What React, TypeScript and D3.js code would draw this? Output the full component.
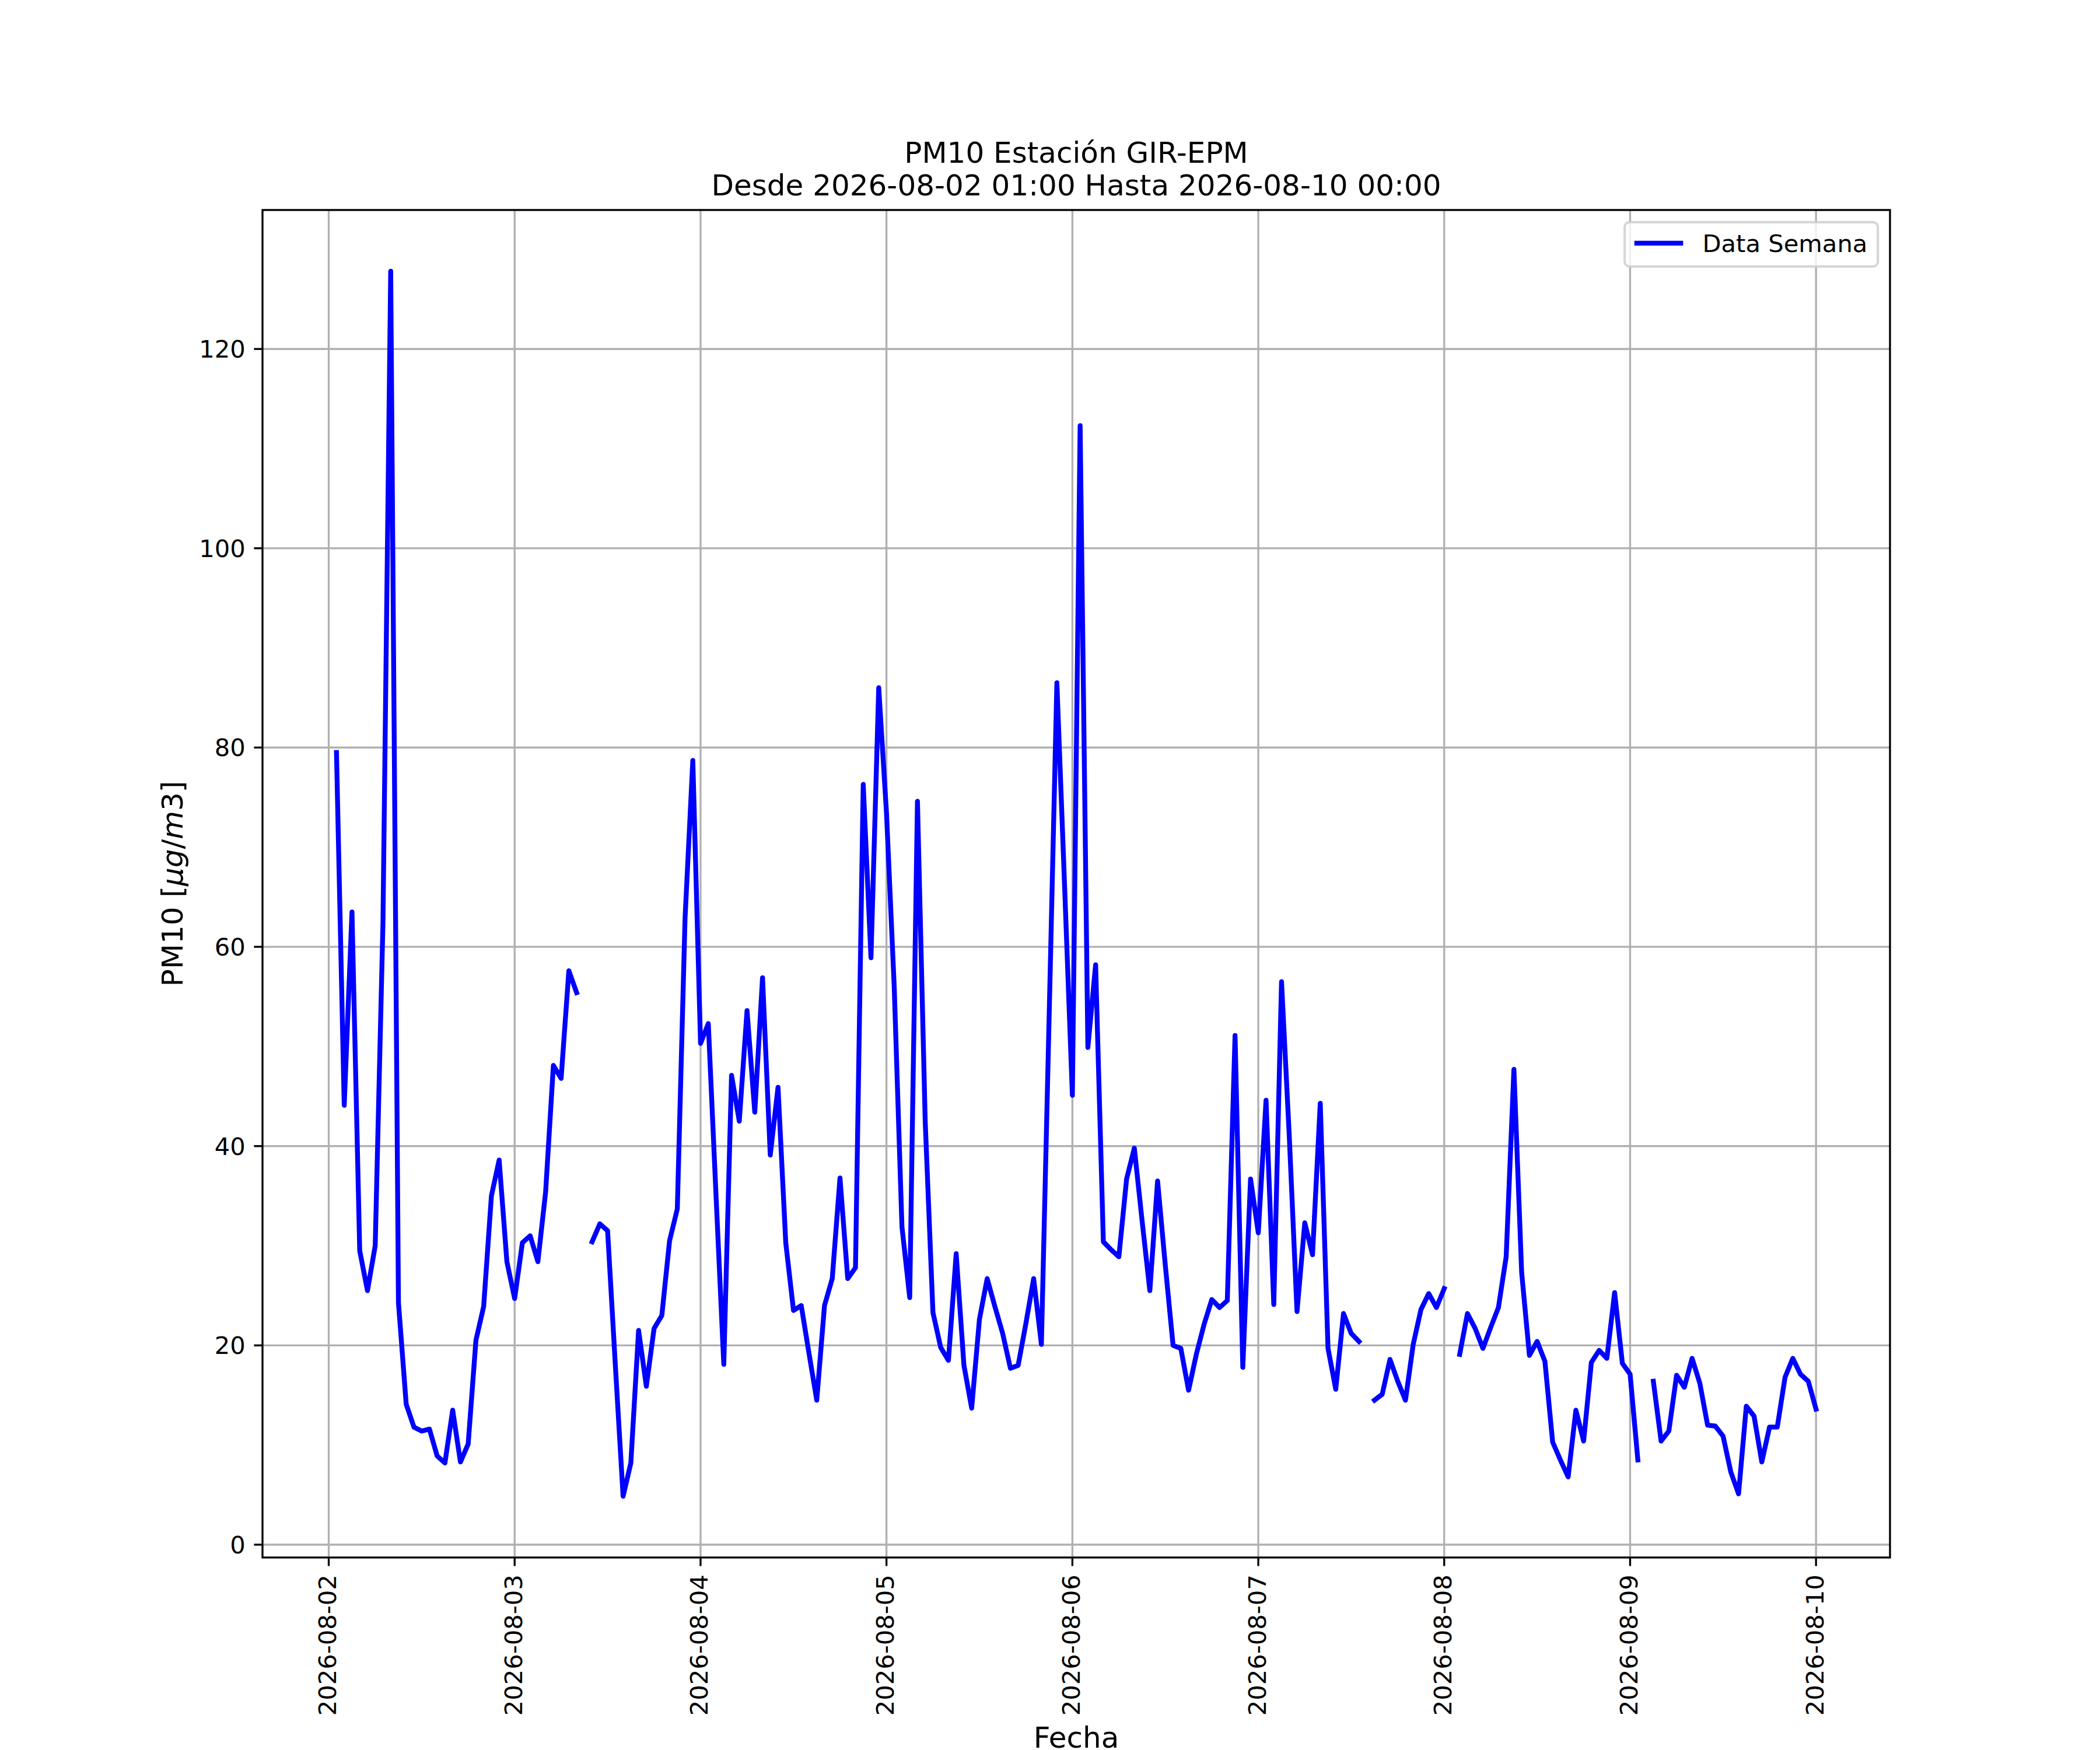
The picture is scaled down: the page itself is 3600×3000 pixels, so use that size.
import React from 'react';
import * as d3 from 'd3';

// Hourly PM10 values, first hour = 2026-08-02 01:00, last = 2026-08-10 00:00 (null = missing)
const pm10: (number | null)[] = [
  79.5, 44.1, 63.5, 29.5, 25.5, 30.0, 62.4, 127.8, 24.3, 14.1, 11.8, 11.4,
  11.6, 8.9, 8.2, 13.5, 8.3, 10.1, 20.5, 23.9, 35.0, 38.6, 28.4, 24.7,
  30.3, 31.0, 28.4, 35.4, 48.1, 46.8, 57.6, 55.4, null, 30.4, 32.2, 31.5,
  18.0, 4.86, 8.2, 21.5, 15.9, 21.7, 23.0, 30.5, 33.7, 62.9, 78.7, 50.3,
  52.3, 35.0, 18.1, 47.1, 42.5, 53.6, 43.4, 56.9, 39.1, 45.9, 30.3, 23.5,
  24.0, 19.2, 14.5, 24.0, 26.7, 36.8, 26.7, 27.8, 76.3, 58.9, 86.0, 73.5,
  56.0, 31.9, 24.8, 74.6, 42.5, 23.3, 19.8, 18.5, 29.2, 18.0, 13.7, 22.6,
  26.7, 23.9, 21.2, 17.7, 18.0, 22.2, 26.7, 20.1, 53.0, 86.5, 66.0, 45.1,
  112.3, 49.9, 58.2, 30.4, 29.6, 28.9, 36.7, 39.8, 32.5, 25.5, 36.5, 28.0,
  20.0, 19.7, 15.5, 19.1, 22.1, 24.6, 23.8, 24.5, 51.1, 17.8, 36.7, 31.3,
  44.6, 24.1, 56.5, 41.0, 23.4, 32.3, 29.1, 44.3, 19.7, 15.6, 23.2, 21.2,
  20.4, null, 14.5, 15.1, 18.6, 16.4, 14.5, 20.1, 23.6, 25.2, 23.8, 25.7,
  null, 19.1, 23.2, 21.7, 19.7, 21.8, 23.8, 28.9, 47.7, 27.3, 19.0, 20.4,
  18.4, 10.3, 8.5, 6.8, 13.5, 10.4, 18.3, 19.5, 18.7, 25.3, 18.2, 17.1,
  8.5, null, 16.4, 10.4, 11.4, 17.0, 15.8, 18.7, 16.2, 12.0, 11.9, 10.9,
  7.3, 5.1, 13.9, 12.9, 8.3, 11.8, 11.8, 16.8, 18.7, 17.1, 16.4, 13.6,
];

const xTickLabels = [
  '2026-08-02', '2026-08-03', '2026-08-04', '2026-08-05', '2026-08-06',
  '2026-08-07', '2026-08-08', '2026-08-09', '2026-08-10',
];
const yTicks = [0, 20, 40, 60, 80, 100, 120];

const titleLines = ['PM10 Estación GIR-EPM', 'Desde 2026-08-02 01:00 Hasta 2026-08-10 00:00'];
const xLabel = 'Fecha';
const legendLabel = 'Data Semana';

const W = 3600;
const H = 3000;
const L = 450, R = 3240, T = 360, B = 2670;
const FS = 41.67; // 10pt @300dpi
const FL = 50; // 12pt
const LW = 3.33;
const FONT = '"DejaVu Sans", sans-serif';

const startMs = Date.UTC(2026, 7, 2, 1);
const times = pm10.map((_, i) => new Date(startMs + i * 3600000));
const parseDay = (s: string) => {
  const [y, m, d] = s.split('-').map(Number);
  return new Date(Date.UTC(y, m - 1, d));
};

export default function App() {
  const t0 = +times[0];
  const t1 = +times[times.length - 1];
  const tp = (t1 - t0) * 0.05;
  const x = d3.scaleUtc().domain([new Date(t0 - tp), new Date(t1 + tp)]).range([L, R]);

  const vals = pm10.filter((v): v is number => v != null);
  const [lo, hi] = d3.extent(vals) as [number, number];
  const vp = (hi - lo) * 0.05;
  const y = d3.scaleLinear().domain([lo - vp, hi + vp]).range([B, T]);

  const line = d3
    .line<number | null>()
    .defined((d) => d != null)
    .x((_, i) => x(times[i]))
    .y((d) => y(d as number));

  const path = line(pm10) || '';

  const tickLen = 14.6;
  const pad = 14.6;

  // legend geometry
  const legR = R - 20.8;
  const legT = T + 20.8;
  const legW = 434;
  const legH = 76;
  const legL = legR - legW;

  return (
    <div style={{ position: 'absolute', left: 0, top: 0, width: W, height: H, background: '#fff' }}>
      <svg width={W} height={H} viewBox={`0 0 ${W} ${H}`} style={{ display: 'block' }} fontFamily={FONT}>
        <rect x={0} y={0} width={W} height={H} fill="#fff" />
        {/* grid */}
        <g stroke="#b0b0b0" strokeWidth={LW}>
          {xTickLabels.map((s) => {
            const xx = x(parseDay(s));
            return <line key={s} x1={xx} x2={xx} y1={T} y2={B} />;
          })}
          {yTicks.map((v) => (
            <line key={v} x1={L} x2={R} y1={y(v)} y2={y(v)} />
          ))}
        </g>
        {/* data */}
        <defs>
          <clipPath id="clip">
            <rect x={L} y={T} width={R - L} height={B - T} />
          </clipPath>
        </defs>
        <path
          d={path}
          fill="none"
          stroke="#0000ff"
          strokeWidth={8.33}
          strokeLinejoin="round"
          strokeLinecap="square"
          clipPath="url(#clip)"
        />
        {/* spines */}
        <rect x={L} y={T} width={R - L} height={B - T} fill="none" stroke="#000" strokeWidth={LW} />
        {/* x ticks */}
        <g>
          {xTickLabels.map((s) => {
            const xx = x(parseDay(s));
            const ty = B + tickLen + pad;
            return (
              <g key={s}>
                <line x1={xx} x2={xx} y1={B} y2={B + tickLen} stroke="#000" strokeWidth={LW} />
                <text
                  x={xx}
                  y={ty}
                  transform={`rotate(-90, ${xx}, ${ty})`}
                  textAnchor="end"
                  dy="0.3em"
                  fontSize={FS}
                  fill="#000"
                >
                  {s}
                </text>
              </g>
            );
          })}
        </g>
        {/* y ticks */}
        <g>
          {yTicks.map((v) => (
            <g key={v}>
              <line x1={L - tickLen} x2={L} y1={y(v)} y2={y(v)} stroke="#000" strokeWidth={LW} />
              <text x={L - tickLen - pad} y={y(v)} dy="0.36em" textAnchor="end" fontSize={FS} fill="#000">
                {v}
              </text>
            </g>
          ))}
        </g>
        {/* title */}
        <text x={(L + R) / 2} y={279} textAnchor="middle" fontSize={FL} fill="#000">
          {titleLines[0]}
        </text>
        <text x={(L + R) / 2} y={335} textAnchor="middle" fontSize={FL} fill="#000">
          {titleLines[1]}
        </text>
        {/* x label */}
        <text x={(L + R) / 2} y={2996} textAnchor="middle" fontSize={FL} fill="#000">
          {xLabel}
        </text>
        {/* y label */}
        <text
          x={313}
          y={(T + B) / 2}
          transform={`rotate(-90, 313, ${(T + B) / 2})`}
          textAnchor="middle"
          fontSize={FL}
          fill="#000"
        >
          PM10 [<tspan fontStyle="italic">μg</tspan>/<tspan fontStyle="italic">m</tspan>3]
        </text>
        {/* legend */}
        <rect
          x={legL}
          y={legT}
          width={legW}
          height={legH}
          rx={8.3}
          ry={8.3}
          fill="#fff"
          fillOpacity={0.8}
          stroke="#cccccc"
          strokeOpacity={0.8}
          strokeWidth={4.17}
        />
        <line
          x1={legL + 16.7 + 4}
          x2={legL + 16.7 + 83.3 - 4}
          y1={legT + 36}
          y2={legT + 36}
          stroke="#0000ff"
          strokeWidth={8.33}
          strokeLinecap="square"
        />
        <text x={legL + 16.7 + 83.3 + 33.3} y={legT + 51} fontSize={FS} fill="#000">
          {legendLabel}
        </text>
      </svg>
    </div>
  );
}
